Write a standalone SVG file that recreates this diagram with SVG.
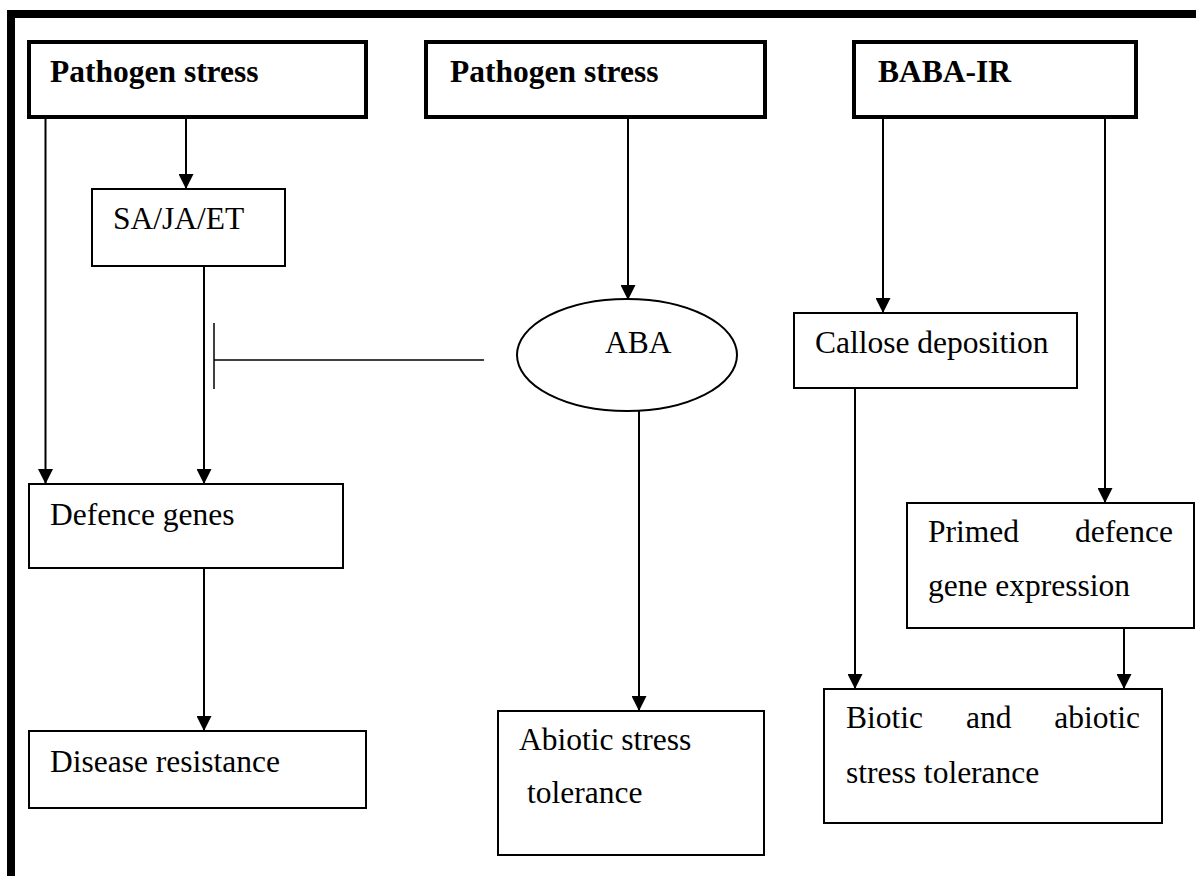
<svg xmlns="http://www.w3.org/2000/svg" width="1196" height="876" viewBox="0 0 1196 876">
  <style>
    text { font-family: "Liberation Serif", Tinos, "Times New Roman", "DejaVu Serif", serif; font-size: 31.5px; fill: #000; }
    .b { font-weight: bold; }
    .hdr { fill: #fff; stroke: #000; stroke-width: 4; }
    .box { fill: #fff; stroke: #000; stroke-width: 2; }
    .ln { fill: none; stroke: #000; stroke-width: 2; }
    .arr { marker-end: url(#ah); }
    .inh { fill: none; stroke: #000; stroke-width: 1.5; }
  </style>
  <defs>
    <marker id="ah" markerUnits="userSpaceOnUse" markerWidth="15" markerHeight="15" refX="15" refY="7.5" orient="auto">
      <path d="M0,0 L15,7.5 L0,15 z" fill="#000"/>
    </marker>
  </defs>
  <rect width="1196" height="876" fill="#fff"/>

  <!-- outer frame -->
  <path d="M11,876 V14 H1196" fill="none" stroke="#000" stroke-width="8"/>

  <!-- connectors -->
  <g id="connectors">
    <line class="ln arr" x1="45.5" y1="118" x2="45.5" y2="484"/>
    <line class="ln arr" x1="186" y1="118" x2="186" y2="189"/>
    <line class="ln arr" x1="204" y1="266" x2="204" y2="484"/>
    <line class="ln arr" x1="204" y1="568" x2="204" y2="731"/>
    <!-- ABA inhibits SA/JA/ET signalling -->
    <line class="inh" x1="214" y1="360" x2="484" y2="360"/>
    <line class="inh" x1="214" y1="323" x2="214" y2="389"/>
    <line class="ln arr" x1="628" y1="118" x2="628" y2="300"/>
    <line class="ln arr" x1="639" y1="411" x2="639" y2="711"/>
    <line class="ln arr" x1="883" y1="118" x2="883" y2="313"/>
    <line class="ln arr" x1="1105" y1="118" x2="1105" y2="503"/>
    <line class="ln arr" x1="855" y1="388" x2="855" y2="689"/>
    <line class="ln arr" x1="1124" y1="628" x2="1124" y2="689"/>
  </g>

  <g id="pathogen-stress-1">
    <rect class="hdr" x="29" y="42" width="337" height="75"/>
    <text class="b" x="50" y="82" font-family="Liberation Serif">Pathogen stress</text>
  </g>
  <g id="sa-ja-et">
    <rect class="box" x="92" y="189" width="193" height="77"/>
    <text x="113" y="229" font-family="Liberation Serif">SA/JA/ET</text>
  </g>
  <g id="defence-genes">
    <rect class="box" x="29" y="484" width="314" height="84"/>
    <text x="50" y="525" font-family="Liberation Serif">Defence genes</text>
  </g>
  <g id="disease-resistance">
    <rect class="box" x="29" y="731" width="337" height="77"/>
    <text x="50" y="772" font-family="Liberation Serif">Disease resistance</text>
  </g>

  <g id="pathogen-stress-2">
    <rect class="hdr" x="426" y="42" width="339" height="75"/>
    <text class="b" x="450" y="82" font-family="Liberation Serif">Pathogen stress</text>
  </g>
  <g id="aba">
    <ellipse cx="627" cy="355" rx="110" ry="56" fill="#fff" stroke="#000" stroke-width="2"/>
    <text x="605" y="353" font-family="Liberation Serif">ABA</text>
  </g>
  <g id="abiotic-tolerance">
    <rect class="box" x="498" y="711" width="266" height="144"/>
    <text x="519" y="750" font-family="Liberation Serif">Abiotic stress</text>
    <text x="527" y="803" font-family="Liberation Serif">tolerance</text>
  </g>

  <g id="baba-ir">
    <rect class="hdr" x="854" y="42" width="282" height="75"/>
    <text class="b" x="878" y="82" font-family="Liberation Serif">BABA-IR</text>
  </g>
  <g id="callose-deposition">
    <rect class="box" x="794" y="313" width="283" height="75"/>
    <text x="815" y="353" font-family="Liberation Serif">Callose deposition</text>
  </g>
  <g id="primed-defence">
    <rect class="box" x="907" y="503" width="287" height="125"/>
    <text x="928" y="542" font-family="Liberation Serif">Primed</text>
    <text x="1173" y="542" text-anchor="end" font-family="Liberation Serif">defence</text>
    <text x="928" y="596" font-family="Liberation Serif">gene expression</text>
  </g>
  <g id="biotic-abiotic-tolerance">
    <rect class="box" x="824" y="689" width="338" height="134"/>
    <text x="846" y="728" font-family="Liberation Serif">Biotic</text>
    <text x="966" y="728" font-family="Liberation Serif">and</text>
    <text x="1140" y="728" text-anchor="end" font-family="Liberation Serif">abiotic</text>
    <text x="846" y="783" font-family="Liberation Serif">stress tolerance</text>
  </g>
</svg>
